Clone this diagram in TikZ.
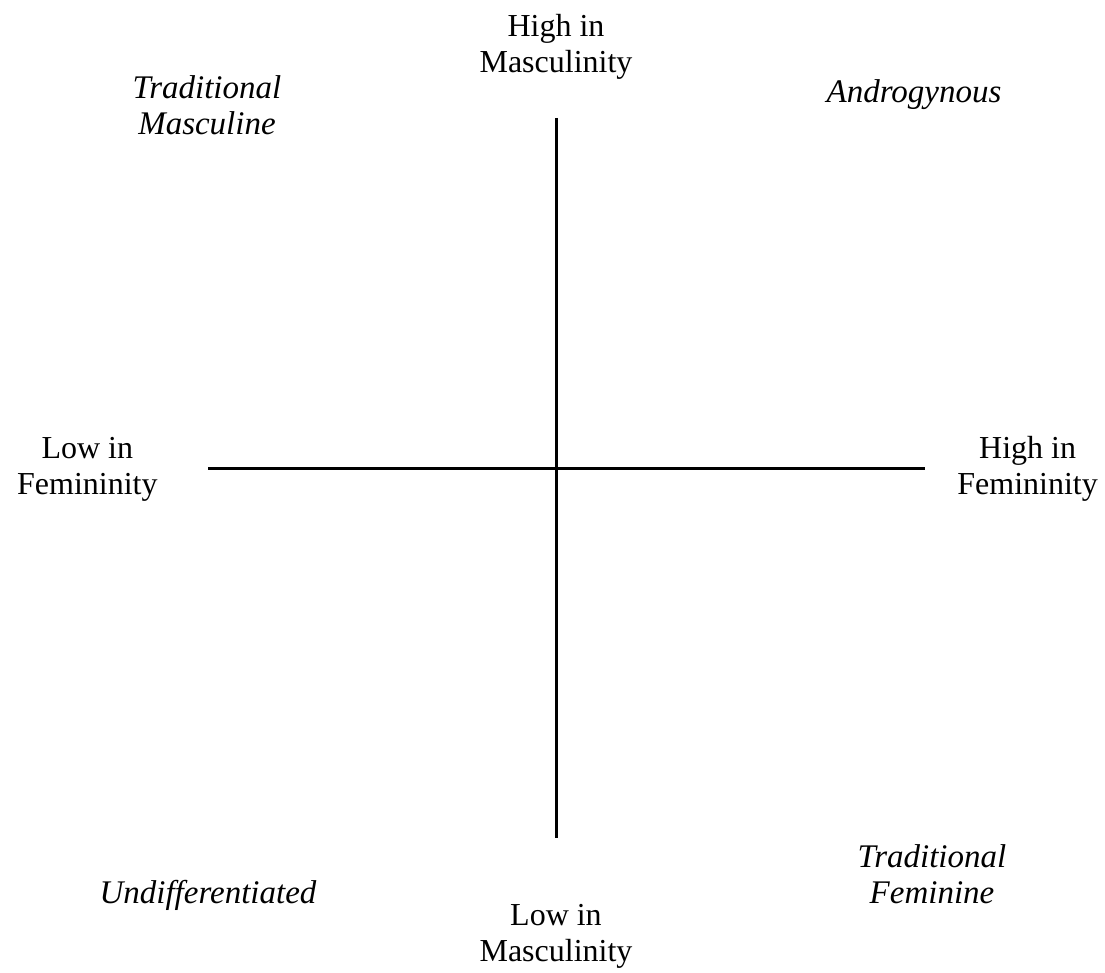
\documentclass[tikz,border=0pt]{standalone}
\usepackage{fontspec}
\setmainfont{Liberation Serif}
\usetikzlibrary{positioning}

\begin{document}
\begin{tikzpicture}[
  x=0.5pt, y=-0.5pt,
  axis/.style={line width=1.5pt},
  lbl/.style={font=\fontsize{16}{18}\selectfont, align=center, inner sep=0pt},
  quad/.style={lbl, font=\fontsize{16.5}{18}\selectfont\itshape, anchor=base}
]
  \useasboundingbox (0,0) rectangle (1105,973);

  % Axis ends
  \coordinate (mtop) at (556,118);
  \coordinate (mbot) at (556,838);
  \coordinate (flow) at (208,469);
  \coordinate (fhigh) at (925,469);

  % Axes
  \draw[axis] (mtop) -- (mbot);
  \draw[axis] (flow) -- (fhigh);

  % Axis labels
  \node (highM) [lbl, above=19pt of mtop] {High in\\Masculinity};
  \node (lowM) [lbl, below=33pt of mbot] {Low in\\Masculinity};
  \node (lowF) [lbl, left=25pt of flow] {Low in\\Femininity};
  \node (highF) [lbl, right=16pt of fhigh] {High in\\Femininity};

  % Quadrant labels
  \node (tradM) [quad] at (207,135) {Traditional\\Masculine};
  \node (andro) [quad] at (914,103) {Androgynous};
  \node (undiff) [quad] at (208,903) {Undifferentiated};
  \node (tradF) [quad] at (932,903) {Traditional\\Feminine};
\end{tikzpicture}
\end{document}
